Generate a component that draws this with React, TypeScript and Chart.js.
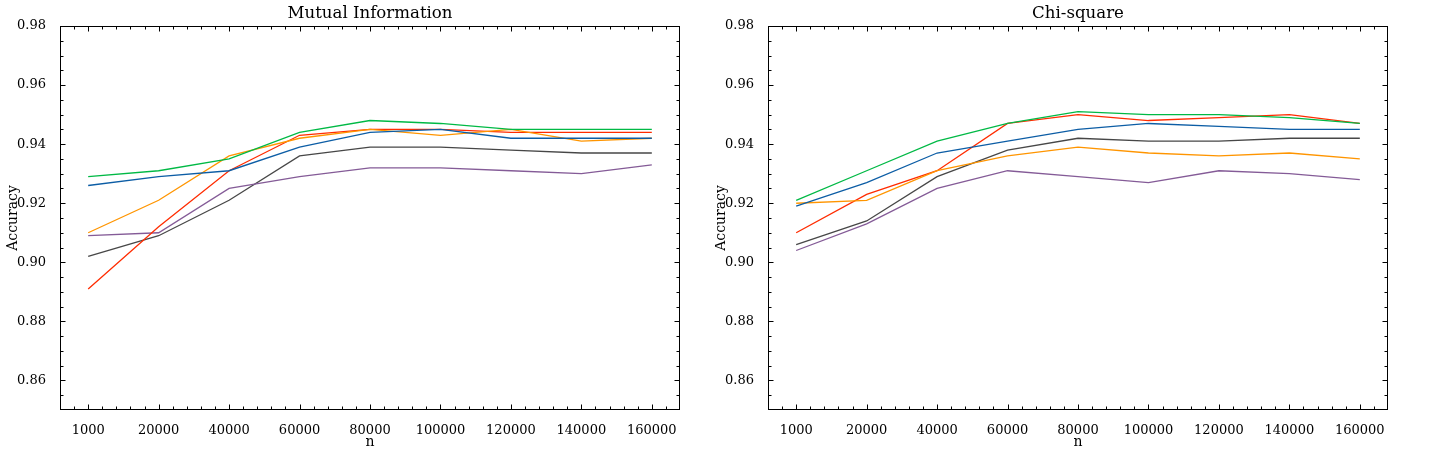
import { useEffect, useRef } from "react"
import { Chart, registerables } from "chart.js"

Chart.register(...registerables)

const nLabels = ["1000", "20000", "40000", "60000", "80000", "100000", "120000", "140000", "160000"]
const yTickValues = [0.86, 0.88, 0.9, 0.92, 0.94, 0.96, 0.98]

// Mutual Information panel
const miBlue = [0.926, 0.929, 0.931, 0.939, 0.944, 0.945, 0.942, 0.942, 0.942]
const miGreen = [0.929, 0.931, 0.935, 0.944, 0.948, 0.947, 0.945, 0.945, 0.945]
const miOrange = [0.91, 0.921, 0.936, 0.942, 0.945, 0.943, 0.945, 0.941, 0.942]
const miRed = [0.891, 0.912, 0.931, 0.943, 0.945, 0.945, 0.944, 0.944, 0.944]
const miPurple = [0.909, 0.91, 0.925, 0.929, 0.932, 0.932, 0.931, 0.93, 0.933]
const miGray = [0.902, 0.909, 0.921, 0.936, 0.939, 0.939, 0.938, 0.937, 0.937]

// Chi-square panel
const chiBlue = [0.919, 0.927, 0.937, 0.941, 0.945, 0.947, 0.946, 0.945, 0.945]
const chiGreen = [0.921, 0.931, 0.941, 0.947, 0.951, 0.95, 0.95, 0.949, 0.947]
const chiOrange = [0.92, 0.921, 0.931, 0.936, 0.939, 0.937, 0.936, 0.937, 0.935]
const chiRed = [0.91, 0.923, 0.931, 0.947, 0.95, 0.948, 0.949, 0.95, 0.947]
const chiPurple = [0.904, 0.913, 0.925, 0.931, 0.929, 0.927, 0.931, 0.93, 0.928]
const chiGray = [0.906, 0.914, 0.929, 0.938, 0.942, 0.941, 0.941, 0.942, 0.942]

const palette = ["#0C5DA5", "#00B945", "#FF9500", "#FF2C00", "#845B97", "#474747"]
const FONT = "'DejaVu Serif', serif"

Chart.defaults.font.family = FONT
Chart.defaults.font.size = 13
Chart.defaults.color = "#000"

// box, inward ticks on all four sides, titles
const framePlugin = {
  id: "frame",
  afterDatasetsDraw(chart: any, _args: any, opts: any) {
    const { ctx, chartArea: a, scales } = chart
    const sx = scales.x
    const sy = scales.y
    const L = Math.round(a.left) + 0.5
    const R = Math.round(a.right) - 0.5
    const T = Math.round(a.top) + 0.5
    const B = Math.round(a.bottom) - 0.5
    ctx.save()
    ctx.strokeStyle = "#000"
    ctx.lineWidth = 1
    ctx.beginPath()
    // x ticks (major at categories, minor every 0.2)
    for (let k = -1; k <= 41; k++) {
      const v = k / 5
      const major = k % 5 === 0
      const len = major ? 5 : 3
      const px = Math.round(sx.getPixelForValue(v)) + 0.5
      ctx.moveTo(px, B)
      ctx.lineTo(px, B - len)
      ctx.moveTo(px, T)
      ctx.lineTo(px, T + len)
    }
    // y ticks (major 0.02, minor 0.005)
    for (let k = 171; k <= 195; k++) {
      const v = k * 0.005
      const major = k % 4 === 0
      const len = major ? 5 : 3
      const py = Math.round(sy.getPixelForValue(v)) + 0.5
      ctx.moveTo(L, py)
      ctx.lineTo(L + len, py)
      ctx.moveTo(R, py)
      ctx.lineTo(R - len, py)
    }
    ctx.stroke()
    ctx.strokeRect(L, T, R - L, B - T)

    ctx.fillStyle = "#000"
    ctx.textAlign = "center"
    ctx.textBaseline = "alphabetic"
    ctx.font = `16.6px ${FONT}`
    ctx.fillText(opts.title, (a.left + a.right) / 2, 18.3)
    ctx.font = `14px ${FONT}`
    ctx.fillText("n", (a.left + a.right) / 2, 445.7)
    ctx.translate(a.left - 43, (a.top + a.bottom) / 2)
    ctx.rotate(-Math.PI / 2)
    ctx.fillText("Accuracy", 0, 0)
    ctx.restore()
  },
}

interface PanelProps {
  title: string
  series: number[][]
  axisWidth: number
  padRight: number
  left: number
}

function Panel({ title, series, axisWidth, padRight, left }: PanelProps) {
  const canvasRef = useRef<HTMLCanvasElement>(null)
  const chartRef = useRef<Chart | null>(null)

  useEffect(() => {
    if (!canvasRef.current) return
    if (chartRef.current) chartRef.current.destroy()

    chartRef.current = new Chart(canvasRef.current, {
      type: "line",
      data: {
        datasets: series.map((vals, i) => ({
          data: vals.map((v, j) => ({ x: j, y: v })),
          borderColor: palette[i],
          backgroundColor: palette[i],
          borderWidth: 1.3,
          pointRadius: 0,
          tension: 0,
          fill: false,
        })),
      },
      options: {
        responsive: false,
        animation: false,
        devicePixelRatio: 1,
        layout: { padding: { top: 26, right: padRight, left: 0, bottom: 0 } },
        plugins: {
          legend: { display: false },
          tooltip: { enabled: false },
          frame: { title },
        } as any,
        scales: {
          x: {
            type: "linear",
            min: -0.4,
            max: 8.4,
            grid: { display: false },
            border: { display: false },
            afterBuildTicks: (s: any) => {
              s.ticks = nLabels.map((_, i) => ({ value: i }))
            },
            afterFit: (s: any) => {
              s.height = 44
            },
            ticks: {
              padding: 5,
              maxRotation: 0,
              autoSkip: false,
              callback: (v: any) => nLabels[Math.round(Number(v))] ?? "",
            },
          },
          y: {
            type: "linear",
            min: 0.85,
            max: 0.98,
            grid: { display: false },
            border: { display: false },
            afterBuildTicks: (s: any) => {
              s.ticks = yTickValues.map((v) => ({ value: v }))
            },
            afterFit: (s: any) => {
              s.width = axisWidth
            },
            ticks: {
              padding: 6,
              callback: (v: any) => Number(v).toFixed(2),
            },
          },
        },
      },
      plugins: [framePlugin],
    })

    return () => {
      if (chartRef.current) {
        chartRef.current.destroy()
        chartRef.current = null
      }
    }
  }, [title, series, axisWidth, padRight])

  return (
    <div style={{ position: "absolute", left, top: 0, width: 715, height: 454 }}>
      <canvas ref={canvasRef} width={715} height={454}></canvas>
    </div>
  )
}

const miSeries = [miBlue, miGreen, miOrange, miRed, miPurple, miGray]
const chiSeries = [chiBlue, chiGreen, chiOrange, chiRed, chiPurple, chiGray]

export default function App() {
  return (
    <div style={{ position: "absolute", left: 0, top: 0, width: 1430, height: 454, background: "#fff" }}>
      <Panel title="Mutual Information" series={miSeries} axisWidth={60} padRight={35} left={0} />
      <Panel title="Chi-square" series={chiSeries} axisWidth={53} padRight={42} left={715} />
    </div>
  )
}
